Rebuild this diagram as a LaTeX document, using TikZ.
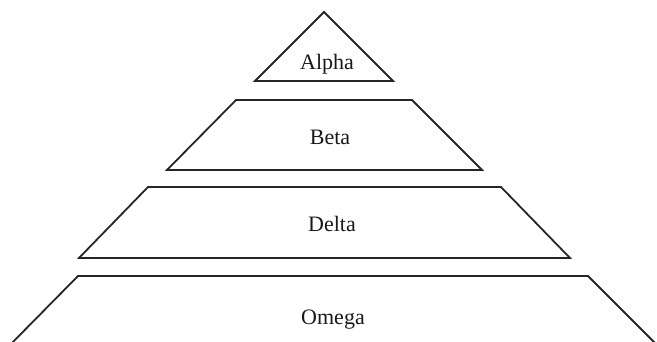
\documentclass[tikz,border=0pt]{standalone}
\usepackage{fontspec}
\setmainfont{Liberation Serif}
\begin{document}
\begin{tikzpicture}[x=1pt,y=-1pt,
  tier/.style={draw=black!85,line width=1.8pt,line join=miter},
  lbl/.style={font=\fontsize{22}{25}\selectfont,text=black!90,inner sep=0pt}]
\useasboundingbox (0,0) rectangle (657,341);
\begin{scope}
\clip (0,0) rectangle (657,341);
\draw[tier] (324,12) -- (393,81) -- (255,81) -- cycle;
\draw[tier] (236,100) -- (412,100) -- (482,170) -- (167,170) -- cycle;
\draw[tier] (148,187) -- (501,187) -- (570,258) -- (79,258) -- cycle;
\draw[tier] (8,347) -- (78,276) -- (588,276) -- (659,347);
\end{scope}
\node[lbl,anchor=base] (alpha) at (327,69) {Alpha};
\node[lbl,anchor=base] (beta) at (330,144) {Beta};
\node[lbl,anchor=base] (delta) at (332,231) {Delta};
\node[lbl,anchor=base] (omega) at (333,324) {Omega};
\end{tikzpicture}
\end{document}
